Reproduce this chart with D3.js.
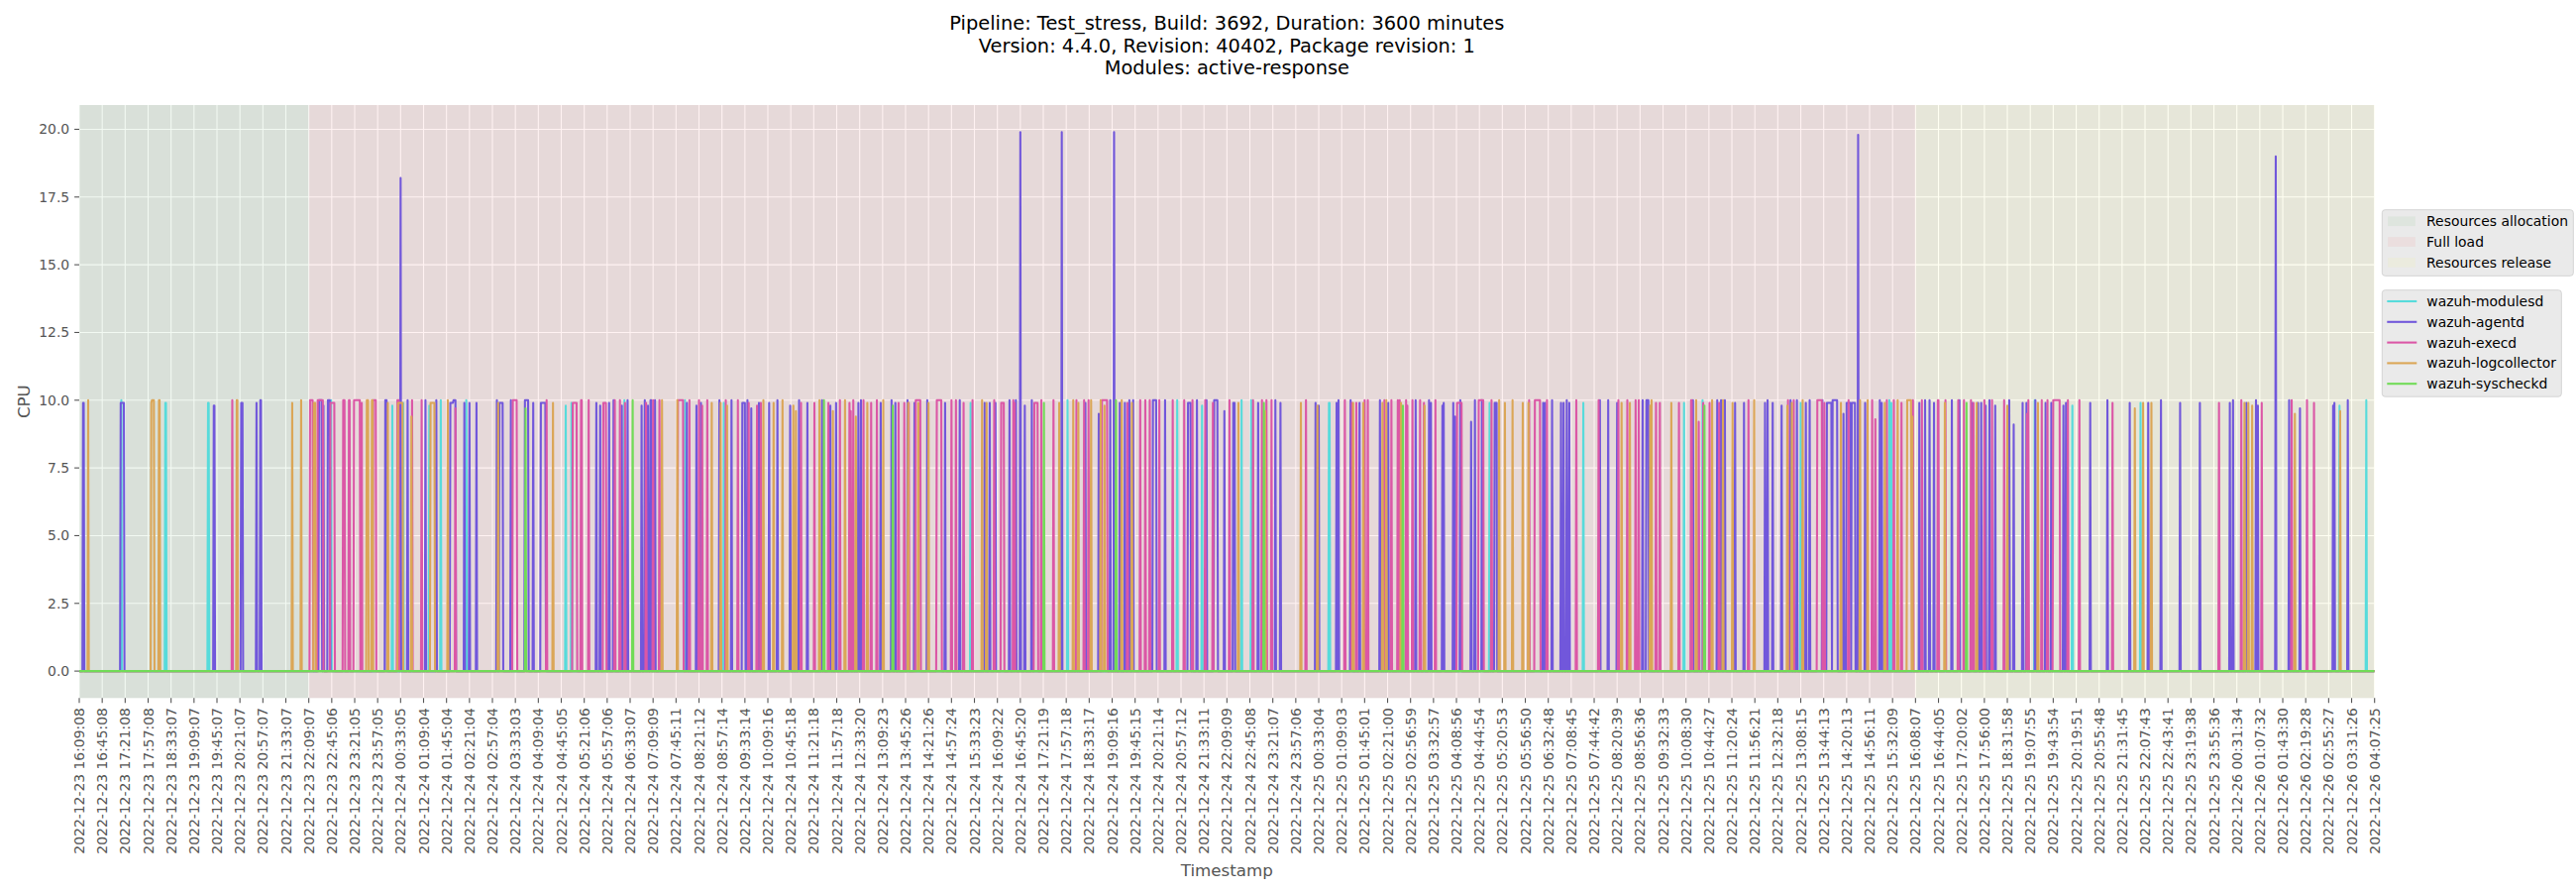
<!DOCTYPE html>
<html>
<head>
<meta charset="utf-8">
<script src="https://cdn.jsdelivr.net/npm/d3@7"></script>
<style>
  body { margin: 0; background: #ffffff; }
  text { font-family: "DejaVu Sans", sans-serif; }
</style>
</head>
<body>
<svg id="cpu-chart"></svg>
<script>
/*--------------------------------------------------------------------------------
----- DATA (CPU usage per daemon, one sample per tick step, 0 outside the runs)
--------------------------------------------------------------------------------*/

const chart_title = [
    "Pipeline: Test_stress, Build: 3692, Duration: 3600 minutes",
    "Version: 4.4.0, Revision: 40402, Package revision: 1",
    "Modules: active-response"
];

// Labels shown every 36 samples on the X-axis
const tick_labels = [
    "2022-12-23 16:09:08", "2022-12-23 16:45:08", "2022-12-23 17:21:08", "2022-12-23 17:57:08",
    "2022-12-23 18:33:07", "2022-12-23 19:09:07", "2022-12-23 19:45:07", "2022-12-23 20:21:07",
    "2022-12-23 20:57:07", "2022-12-23 21:33:07", "2022-12-23 22:09:07", "2022-12-23 22:45:06",
    "2022-12-23 23:21:05", "2022-12-23 23:57:05",
    "2022-12-24 00:33:05", "2022-12-24 01:09:04", "2022-12-24 01:45:04", "2022-12-24 02:21:04",
    "2022-12-24 02:57:04", "2022-12-24 03:33:03", "2022-12-24 04:09:04", "2022-12-24 04:45:05",
    "2022-12-24 05:21:06", "2022-12-24 05:57:06", "2022-12-24 06:33:07", "2022-12-24 07:09:09",
    "2022-12-24 07:45:11", "2022-12-24 08:21:12", "2022-12-24 08:57:14", "2022-12-24 09:33:14",
    "2022-12-24 10:09:16", "2022-12-24 10:45:18", "2022-12-24 11:21:18", "2022-12-24 11:57:18",
    "2022-12-24 12:33:20", "2022-12-24 13:09:23", "2022-12-24 13:45:26", "2022-12-24 14:21:26",
    "2022-12-24 14:57:24", "2022-12-24 15:33:23", "2022-12-24 16:09:22", "2022-12-24 16:45:20",
    "2022-12-24 17:21:19", "2022-12-24 17:57:18", "2022-12-24 18:33:17", "2022-12-24 19:09:16",
    "2022-12-24 19:45:15", "2022-12-24 20:21:14", "2022-12-24 20:57:12", "2022-12-24 21:33:11",
    "2022-12-24 22:09:09", "2022-12-24 22:45:08", "2022-12-24 23:21:07", "2022-12-24 23:57:06",
    "2022-12-25 00:33:04", "2022-12-25 01:09:03", "2022-12-25 01:45:01", "2022-12-25 02:21:00",
    "2022-12-25 02:56:59", "2022-12-25 03:32:57", "2022-12-25 04:08:56", "2022-12-25 04:44:54",
    "2022-12-25 05:20:53", "2022-12-25 05:56:50", "2022-12-25 06:32:48", "2022-12-25 07:08:45",
    "2022-12-25 07:44:42", "2022-12-25 08:20:39", "2022-12-25 08:56:36", "2022-12-25 09:32:33",
    "2022-12-25 10:08:30", "2022-12-25 10:44:27", "2022-12-25 11:20:24", "2022-12-25 11:56:21",
    "2022-12-25 12:32:18", "2022-12-25 13:08:15", "2022-12-25 13:44:13", "2022-12-25 14:20:13",
    "2022-12-25 14:56:11", "2022-12-25 15:32:09", "2022-12-25 16:08:07", "2022-12-25 16:44:05",
    "2022-12-25 17:20:02", "2022-12-25 17:56:00", "2022-12-25 18:31:58", "2022-12-25 19:07:55",
    "2022-12-25 19:43:54", "2022-12-25 20:19:51", "2022-12-25 20:55:48", "2022-12-25 21:31:45",
    "2022-12-25 22:07:43", "2022-12-25 22:43:41", "2022-12-25 23:19:38", "2022-12-25 23:55:36",
    "2022-12-26 00:31:34", "2022-12-26 01:07:32", "2022-12-26 01:43:30", "2022-12-26 02:19:28",
    "2022-12-26 02:55:27", "2022-12-26 03:31:26", "2022-12-26 04:07:25"
];
const tick_step = 36;
const sample_count = 3601;

// Test phases, as [first sample, last sample]
const phase_names = ["Resources allocation", "Full load", "Resources release"];
const phase_bounds = [[0, 360], [360, 2880], [2880, 3600]];

const y_ticks = [0, 2.5, 5, 7.5, 10, 12.5, 15, 17.5, 20];

const series_names = ["wazuh-modulesd", "wazuh-agentd", "wazuh-execd", "wazuh-logcollector", "wazuh-syscheckd"];

// Non-zero runs of every daemon, as [first sample, last sample, CPU]
const modulesd_runs = [
    [66, 66, 10.0], [135, 136, 9.9], [202, 203, 9.9], [395, 395, 10.0], [491, 491, 9.8], [508, 508, 9.9],
    [549, 549, 9.8], [567, 567, 10.0], [607, 607, 10.0], [763, 763, 9.8], [772, 772, 9.9], [855, 855, 10.0],
    [950, 950, 10.0], [1011, 1011, 9.9], [1398, 1398, 9.9], [1550, 1550, 10.0], [1722, 1722, 10.0],
    [1761, 1761, 9.8], [1823, 1823, 10.0], [1838, 1838, 10.0], [1960, 1961, 9.9], [2212, 2212, 9.9],
    [2359, 2359, 9.9], [2517, 2517, 9.9], [2546, 2546, 10.0], [2700, 2700, 9.9], [2839, 2839, 10.0],
    [2842, 2842, 9.9], [3067, 3067, 10.0], [3126, 3126, 9.8], [3233, 3233, 9.9], [3545, 3545, 9.8],
    [3587, 3587, 10.0]
];
const agentd_runs = [
    [6, 7, 9.9], [65, 70, 9.9], [211, 212, 9.8], [254, 256, 9.9], [278, 278, 9.9], [284, 285, 10.0],
    [376, 380, 10.0], [383, 383, 9.8], [390, 393, 10.0], [480, 482, 10.0], [504, 504, 18.2], [515, 515, 10.0],
    [543, 543, 10.0], [560, 560, 10.0], [582, 586, 9.9], [587, 590, 10.0], [604, 604, 9.9], [612, 612, 9.9],
    [623, 623, 9.9], [655, 655, 10.0], [659, 664, 9.9], [677, 677, 10.0], [699, 704, 10.0], [712, 712, 9.9],
    [724, 731, 9.9], [811, 811, 9.9], [817, 817, 9.8], [831, 831, 9.9], [838, 838, 10.0], [851, 851, 9.8],
    [860, 860, 10.0], [882, 882, 9.8], [887, 887, 10.0], [892, 892, 9.8], [896, 897, 10.0], [903, 903, 10.0],
    [953, 953, 9.9], [968, 968, 9.8], [975, 975, 9.9], [1004, 1004, 10.0], [1023, 1023, 10.0],
    [1040, 1044, 9.9], [1048, 1048, 10.0], [1054, 1054, 9.7], [1066, 1066, 9.9], [1082, 1082, 9.9],
    [1095, 1095, 10.0], [1115, 1115, 9.8], [1129, 1129, 10.0], [1142, 1142, 9.9], [1165, 1165, 10.0],
    [1178, 1178, 9.8], [1187, 1187, 9.9], [1222, 1222, 9.9], [1226, 1226, 10.0], [1257, 1257, 9.9],
    [1274, 1274, 10.0], [1280, 1280, 9.9], [1299, 1299, 10.0], [1310, 1310, 9.9], [1330, 1330, 10.0],
    [1358, 1358, 9.9], [1381, 1381, 10.0], [1420, 1420, 9.9], [1428, 1428, 9.9], [1437, 1437, 9.9],
    [1459, 1459, 10.0], [1469, 1469, 10.0], [1476, 1476, 19.9], [1483, 1483, 9.8], [1494, 1494, 10.0],
    [1541, 1541, 19.9], [1578, 1578, 9.9], [1599, 1599, 9.5], [1617, 1617, 10.0], [1623, 1623, 19.9],
    [1632, 1632, 9.9], [1640, 1640, 9.9], [1647, 1647, 10.0], [1653, 1653, 10.0], [1684, 1689, 10.0],
    [1703, 1703, 10.0], [1739, 1743, 9.9], [1753, 1753, 10.0], [1768, 1768, 10.0], [1780, 1785, 10.0],
    [1796, 1796, 9.6], [1810, 1812, 9.9], [1849, 1849, 9.9], [1876, 1876, 10.0], [1884, 1884, 9.9],
    [1939, 1939, 9.9], [1944, 1944, 9.8], [1972, 1972, 9.9], [1975, 1975, 10.0], [1994, 1994, 10.0],
    [2008, 2008, 9.9], [2040, 2040, 10.0], [2053, 2053, 9.9], [2096, 2096, 10.0], [2117, 2117, 10.0],
    [2120, 2120, 9.9], [2138, 2138, 9.8], [2140, 2140, 9.9], [2155, 2155, 9.9], [2158, 2158, 9.4],
    [2166, 2166, 10.0], [2183, 2183, 9.2], [2189, 2189, 10.0], [2200, 2200, 10.0], [2220, 2223, 9.9],
    [2296, 2296, 9.9], [2299, 2299, 9.9], [2310, 2310, 10.0], [2324, 2324, 9.9], [2328, 2328, 9.9],
    [2333, 2333, 10.0], [2337, 2337, 9.9], [2385, 2385, 10.0], [2398, 2398, 10.0], [2412, 2412, 9.9],
    [2452, 2452, 10.0], [2458, 2461, 10.0], [2531, 2531, 10.0], [2569, 2569, 10.0], [2575, 2575, 10.0],
    [2581, 2581, 10.0], [2597, 2597, 9.9], [2611, 2611, 9.9], [2644, 2644, 9.9], [2648, 2648, 10.0],
    [2656, 2656, 9.9], [2670, 2670, 9.8], [2684, 2684, 10.0], [2694, 2694, 10.0], [2708, 2708, 9.9],
    [2714, 2714, 10.0], [2734, 2734, 10.0], [2741, 2748, 9.9], [2750, 2757, 10.0], [2767, 2767, 9.5],
    [2772, 2778, 9.9], [2780, 2785, 9.9], [2790, 2790, 19.8], [2801, 2801, 9.9], [2824, 2824, 10.0],
    [2827, 2827, 9.9], [2886, 2886, 9.9], [2895, 2895, 10.0], [2902, 2902, 10.0], [2909, 2909, 9.9],
    [2937, 2937, 10.0], [2949, 2949, 10.0], [2969, 2969, 9.9], [2978, 2978, 9.9], [2983, 2983, 9.9],
    [2990, 2990, 9.8], [2996, 2996, 10.0], [3005, 3005, 9.8], [3027, 3027, 10.0], [3034, 3034, 9.1],
    [3048, 3048, 9.9], [3054, 3054, 9.9], [3068, 3068, 10.0], [3084, 3084, 9.9], [3093, 3093, 9.9],
    [3112, 3112, 9.8], [3116, 3116, 9.9], [3154, 3154, 9.9], [3181, 3181, 10.0], [3216, 3216, 9.9],
    [3245, 3245, 9.9], [3265, 3265, 10.0], [3295, 3295, 9.9], [3326, 3326, 9.9], [3373, 3373, 9.9],
    [3378, 3378, 10.0], [3399, 3399, 9.9], [3414, 3414, 10.0], [3417, 3417, 9.8], [3445, 3445, 19.0],
    [3466, 3466, 10.0], [3483, 3483, 9.7], [3535, 3535, 9.8], [3537, 3537, 9.9], [3558, 3558, 10.0]
];
const execd_runs = [
    [240, 240, 10.0], [362, 366, 10.0], [374, 382, 10.0], [394, 400, 9.9], [414, 416, 10.0], [423, 424, 10.0],
    [431, 440, 10.0], [443, 443, 9.9], [461, 465, 10.0], [499, 501, 10.0], [522, 522, 10.0], [537, 537, 10.0],
    [590, 590, 9.7], [680, 686, 10.0], [733, 733, 10.0], [774, 780, 9.9], [787, 788, 10.0], [799, 799, 10.0],
    [822, 826, 9.9], [840, 840, 10.0], [848, 848, 10.0], [856, 856, 9.9], [889, 889, 9.9], [900, 900, 10.0],
    [910, 910, 10.0], [939, 947, 10.0], [957, 957, 10.0], [972, 972, 10.0], [977, 977, 9.8], [985, 985, 10.0],
    [1014, 1014, 10.0], [1033, 1033, 10.0], [1050, 1050, 9.9], [1063, 1063, 9.8], [1069, 1069, 9.9],
    [1132, 1132, 9.9], [1153, 1153, 9.9], [1175, 1175, 9.9], [1193, 1193, 10.0], [1208, 1208, 9.9],
    [1210, 1210, 9.6], [1214, 1214, 10.0], [1230, 1230, 10.0], [1242, 1242, 9.9], [1251, 1251, 10.0],
    [1285, 1285, 9.9], [1294, 1294, 9.9], [1301, 1301, 9.9], [1312, 1319, 10.0], [1345, 1352, 10.0],
    [1368, 1368, 10.0], [1375, 1375, 10.0], [1387, 1387, 9.9], [1401, 1401, 10.0], [1435, 1435, 10.0],
    [1446, 1450, 9.9], [1465, 1465, 10.0], [1467, 1467, 9.9], [1498, 1503, 9.9], [1509, 1509, 10.0],
    [1528, 1528, 10.0], [1564, 1564, 10.0], [1576, 1576, 10.0], [1583, 1583, 10.0], [1604, 1612, 10.0],
    [1644, 1644, 9.9], [1664, 1664, 10.0], [1672, 1672, 10.0], [1679, 1679, 10.0], [1694, 1694, 10.0],
    [1715, 1715, 10.0], [1733, 1733, 10.0], [1746, 1746, 10.0], [1766, 1766, 10.0], [1778, 1778, 9.9],
    [1804, 1804, 10.0], [1841, 1841, 10.0], [1855, 1855, 10.0], [1862, 1862, 10.0], [1870, 1870, 10.0],
    [1924, 1924, 10.0], [1985, 1985, 10.0], [1996, 1996, 9.9], [2003, 2003, 9.9], [2016, 2016, 10.0],
    [2021, 2021, 10.0], [2047, 2047, 10.0], [2058, 2058, 10.0], [2068, 2068, 10.0], [2071, 2071, 10.0],
    [2081, 2081, 10.0], [2083, 2083, 9.8], [2091, 2091, 10.0], [2103, 2103, 10.0], [2109, 2109, 9.9],
    [2127, 2127, 10.0], [2161, 2168, 9.9], [2195, 2202, 10.0], [2215, 2215, 10.0], [2274, 2274, 10.0],
    [2283, 2291, 10.0], [2302, 2302, 10.0], [2348, 2348, 10.0], [2383, 2383, 10.0], [2414, 2414, 10.0],
    [2428, 2428, 10.0], [2441, 2441, 10.0], [2446, 2446, 10.0], [2473, 2473, 9.9], [2479, 2479, 9.9],
    [2509, 2509, 9.9], [2528, 2529, 10.0], [2540, 2540, 9.2], [2547, 2547, 9.9], [2557, 2557, 9.9],
    [2572, 2572, 9.9], [2618, 2618, 10.0], [2680, 2680, 10.0], [2689, 2689, 10.0], [2726, 2733, 10.0],
    [2737, 2737, 9.9], [2775, 2775, 10.0], [2812, 2812, 10.0], [2817, 2817, 9.3], [2835, 2835, 10.0],
    [2846, 2846, 10.0], [2858, 2858, 9.9], [2876, 2876, 10.0], [2890, 2890, 10.0], [2915, 2916, 10.0],
    [2927, 2927, 10.0], [2947, 2947, 10.0], [2956, 2956, 10.0], [2967, 2967, 10.0], [2971, 2971, 9.9],
    [2988, 2988, 10.0], [3000, 3000, 10.0], [3019, 3019, 10.0], [3055, 3055, 9.5], [3057, 3057, 10.0],
    [3078, 3078, 10.0], [3087, 3087, 10.0], [3096, 3106, 10.0], [3119, 3119, 10.0], [3137, 3137, 10.0],
    [3189, 3189, 9.9], [3356, 3356, 9.9], [3391, 3391, 10.0], [3423, 3423, 9.9], [3470, 3470, 10.0],
    [3494, 3494, 10.0], [3505, 3505, 9.9]
];
const logcollector_runs = [
    [14, 14, 10.0], [113, 113, 9.9], [114, 117, 10.0], [125, 126, 10.0], [247, 248, 10.0], [334, 334, 9.9],
    [348, 348, 10.0], [368, 370, 9.9], [451, 453, 10.0], [459, 460, 10.0], [484, 484, 9.9], [500, 507, 9.9],
    [521, 521, 9.4], [551, 557, 9.9], [578, 578, 10.0], [657, 657, 9.9], [743, 743, 9.9], [914, 914, 10.0],
    [938, 938, 10.0], [992, 992, 9.9], [1006, 1006, 9.9], [1016, 1016, 9.8], [1073, 1073, 10.0],
    [1089, 1089, 9.9], [1103, 1103, 10.0], [1120, 1120, 9.8], [1124, 1124, 9.6], [1161, 1161, 10.0],
    [1182, 1182, 9.6], [1201, 1201, 10.0], [1218, 1218, 9.4], [1236, 1236, 9.9], [1261, 1261, 10.0],
    [1300, 1300, 9.9], [1316, 1316, 9.9], [1332, 1332, 9.9], [1416, 1416, 10.0], [1423, 1423, 9.9],
    [1537, 1537, 9.9], [1559, 1559, 10.0], [1567, 1567, 9.9], [1587, 1587, 10.0], [1602, 1602, 10.0],
    [1608, 1608, 9.8], [1635, 1635, 10.0], [1651, 1651, 9.9], [1818, 1818, 9.9], [1860, 1860, 9.6],
    [1916, 1916, 9.9], [1942, 1942, 9.8], [1998, 1998, 9.9], [2014, 2014, 9.9], [2044, 2044, 9.9],
    [2050, 2050, 10.0], [2073, 2073, 9.9], [2110, 2110, 9.8], [2227, 2227, 10.0], [2236, 2236, 9.9],
    [2248, 2248, 10.0], [2264, 2264, 9.9], [2273, 2273, 9.9], [2419, 2419, 9.9], [2432, 2432, 9.9],
    [2464, 2464, 9.8], [2466, 2466, 10.0], [2497, 2497, 9.9], [2536, 2536, 10.0], [2561, 2561, 10.0],
    [2578, 2578, 10.0], [2593, 2593, 9.9], [2627, 2627, 10.0], [2679, 2679, 9.8], [2686, 2686, 9.9],
    [2703, 2703, 10.0], [2763, 2763, 9.9], [2793, 2793, 10.0], [2805, 2805, 10.0], [2832, 2832, 9.9],
    [2852, 2852, 10.0], [2867, 2873, 10.0], [2875, 2875, 9.4], [2926, 2926, 9.9], [2976, 2976, 9.9],
    [3024, 3024, 9.8], [3072, 3072, 9.9], [3224, 3224, 9.7], [3237, 3237, 9.9], [3250, 3250, 9.9],
    [3396, 3396, 9.9], [3402, 3402, 9.9], [3408, 3408, 9.8], [3475, 3475, 9.5], [3546, 3546, 9.6]
];
const syscheckd_runs = [
    [700, 700, 9.7], [868, 868, 10.0], [1168, 1168, 10.0], [1276, 1276, 9.8], [1513, 1513, 9.9],
    [1626, 1626, 10.0], [1858, 1858, 9.9], [2076, 2076, 9.8], [2549, 2549, 9.8], [2960, 2960, 9.9]
];


/*--------------------------------------------------------------------------------
----- LINE CHART (CPU of every daemon over the whole stress test)
--------------------------------------------------------------------------------*/

// Function to expand the non-zero runs into one value per sample
function build_series(runs) {
    const values = new Array(sample_count).fill(0);
    runs.forEach(([first, last, cpu]) => {
        for (let i = first; i <= last; i++) { values[i] = cpu; }
    });
    return values;
}

const series_data = [modulesd_runs, agentd_runs, execd_runs, logcollector_runs, syscheckd_runs].map(build_series);

// Styles (seaborn hls palette, phase spans with a very light alpha)
const series_colors = [180, 252, 324, 36, 108].map(h => d3.hsl(h, 0.65, 0.6).formatHex());
const phase_colors = ["green", "red", "yellow"];
const phase_alpha = 0.05;
const axis_text_color = "#555555";
const font_small = 13.9, font_label = 16.7, font_title = 19.4;
const line_width = 2.08;

// Configure the dimensions of the figure and the plot area
const fig_width = 2600, fig_height = 900;
const plot = { left: 80, right: 2396.7, top: 106, bottom: 704.3 };

// Create the scales, the Y range has matplotlib's 5% margins
const x_scale = d3.scaleLinear()
    .domain([0, sample_count - 1])
    .range([plot.left, plot.right]);
const y_max = d3.max(series_data, s => d3.max(s));
const y_pad = 0.05 * y_max;
const y_scale = d3.scaleLinear()
    .domain([-y_pad, y_max + y_pad])
    .range([plot.bottom, plot.top]);

const x_ticks = tick_labels.map((d, i) => i * tick_step);

// Create the chart container
const svg = d3.select("#cpu-chart")
    .attr("width", fig_width)
    .attr("height", fig_height);

svg.append("rect")
    .attr("width", fig_width)
    .attr("height", fig_height)
    .attr("fill", "#ffffff");

svg.append("clipPath")
    .attr("id", "plot-clip")
    .append("rect")
    .attr("x", plot.left)
    .attr("y", plot.top)
    .attr("width", plot.right - plot.left)
    .attr("height", plot.bottom - plot.top);

// Grey ggplot background and white grid
svg.append("rect")
    .attr("x", plot.left)
    .attr("y", plot.top)
    .attr("width", plot.right - plot.left)
    .attr("height", plot.bottom - plot.top)
    .attr("fill", "#e5e5e5");

const grid = svg.append("g").attr("class", "grid");
grid.selectAll(".vgrid")
    .data(x_ticks)
    .enter()
    .append("line")
    .attr("x1", d => x_scale(d))
    .attr("x2", d => x_scale(d))
    .attr("y1", plot.top)
    .attr("y2", plot.bottom)
    .attr("stroke", "#ffffff")
    .attr("stroke-width", 1.1);
grid.selectAll(".hgrid")
    .data(y_ticks)
    .enter()
    .append("line")
    .attr("x1", plot.left)
    .attr("x2", plot.right)
    .attr("y1", d => y_scale(d))
    .attr("y2", d => y_scale(d))
    .attr("stroke", "#ffffff")
    .attr("stroke-width", 1.1);

// Phase spans over the background
svg.append("g")
    .selectAll("rect")
    .data(phase_bounds)
    .enter()
    .append("rect")
    .attr("x", d => x_scale(d[0]))
    .attr("y", plot.top)
    .attr("width", d => x_scale(d[1]) - x_scale(d[0]))
    .attr("height", plot.bottom - plot.top)
    .attr("fill", (d, i) => phase_colors[i])
    .attr("fill-opacity", phase_alpha);

// Create the lines, syscheckd is drawn last so it covers the zero baseline
const cpu_line = d3.line()
    .x((d, i) => x_scale(i))
    .y(d => y_scale(d))
    .curve(d3.curveLinear);

svg.append("g")
    .attr("clip-path", "url(#plot-clip)")
    .selectAll("path")
    .data(series_data)
    .enter()
    .append("path")
    .attr("d", cpu_line)
    .attr("fill", "none")
    .attr("stroke", (d, i) => series_colors[i])
    .attr("stroke-width", line_width)
    .attr("stroke-linejoin", "round");

// X-axis ticks and rotated timestamp labels
const x_axis = svg.append("g").attr("class", "x axis");
x_axis.selectAll("line")
    .data(x_ticks)
    .enter()
    .append("line")
    .attr("x1", d => x_scale(d))
    .attr("x2", d => x_scale(d))
    .attr("y1", plot.bottom)
    .attr("y2", plot.bottom + 4.9)
    .attr("stroke", axis_text_color)
    .attr("stroke-width", 1.1);
x_axis.selectAll("text")
    .data(x_ticks)
    .enter()
    .append("text")
    .attr("transform", d => `translate(${x_scale(d)},${plot.bottom + 9.8}) rotate(-90)`)
    .attr("text-anchor", "end")
    .attr("dominant-baseline", "central")
    .attr("font-size", font_small)
    .attr("fill", axis_text_color)
    .text((d, i) => tick_labels[i]);

// Y-axis ticks and labels
const y_axis = svg.append("g").attr("class", "y axis");
y_axis.selectAll("line")
    .data(y_ticks)
    .enter()
    .append("line")
    .attr("x1", plot.left - 4.9)
    .attr("x2", plot.left)
    .attr("y1", d => y_scale(d))
    .attr("y2", d => y_scale(d))
    .attr("stroke", axis_text_color)
    .attr("stroke-width", 1.1);
y_axis.selectAll("text")
    .data(y_ticks)
    .enter()
    .append("text")
    .attr("x", plot.left - 9.8)
    .attr("y", d => y_scale(d))
    .attr("text-anchor", "end")
    .attr("dominant-baseline", "central")
    .attr("font-size", font_small)
    .attr("fill", axis_text_color)
    .text(d => d3.format(".1f")(d));

// Axis titles
svg.append("text")
    .attr("transform", `translate(29.5,${(plot.top + plot.bottom) / 2}) rotate(-90)`)
    .attr("text-anchor", "middle")
    .attr("font-size", font_label)
    .attr("fill", axis_text_color)
    .text("CPU");
svg.append("text")
    .attr("x", (plot.left + plot.right) / 2)
    .attr("y", 884)
    .attr("text-anchor", "middle")
    .attr("font-size", font_label)
    .attr("fill", axis_text_color)
    .text("Timestamp");

// Three line title
svg.append("g")
    .selectAll("text")
    .data(chart_title)
    .enter()
    .append("text")
    .attr("x", (plot.left + plot.right) / 2)
    .attr("y", (d, i) => 30 + i * 22.6)
    .attr("text-anchor", "middle")
    .attr("font-size", font_title)
    .attr("fill", "#000000")
    .text(d => d);

// Legend of the phases
const legend_x = 2404.3;
const phase_legend = svg.append("g");
phase_legend.append("rect")
    .attr("x", legend_x)
    .attr("y", 211.7)
    .attr("width", 193)
    .attr("height", 66.6)
    .attr("rx", 3)
    .attr("fill", "#eaeaea")
    .attr("stroke", "#d4d4d4")
    .attr("stroke-width", 1);
const phase_items = phase_legend.selectAll(".item")
    .data(phase_names)
    .enter()
    .append("g")
    .attr("transform", (d, i) => `translate(${legend_x},${223.3 + i * 20.8})`);
phase_items.append("rect")
    .attr("x", 5.8)
    .attr("y", -4.9)
    .attr("width", 27.8)
    .attr("height", 9.7)
    .attr("fill", (d, i) => phase_colors[i])
    .attr("fill-opacity", phase_alpha);
phase_items.append("text")
    .attr("x", 44.8)
    .attr("dominant-baseline", "central")
    .attr("font-size", font_small)
    .attr("fill", "#000000")
    .text(d => d);

// Legend of the daemons
const series_legend = svg.append("g");
series_legend.append("rect")
    .attr("x", legend_x)
    .attr("y", 292.7)
    .attr("width", 181)
    .attr("height", 107.5)
    .attr("rx", 3)
    .attr("fill", "#eaeaea")
    .attr("stroke", "#d4d4d4")
    .attr("stroke-width", 1);
const series_items = series_legend.selectAll(".item")
    .data(series_names)
    .enter()
    .append("g")
    .attr("transform", (d, i) => `translate(${legend_x},${304 + i * 20.8})`);
series_items.append("line")
    .attr("x1", 5)
    .attr("x2", 35)
    .attr("stroke", (d, i) => series_colors[i])
    .attr("stroke-width", line_width);
series_items.append("text")
    .attr("x", 45)
    .attr("dominant-baseline", "central")
    .attr("font-size", font_small)
    .attr("fill", "#000000")
    .text(d => d);
</script>
</body>
</html>
